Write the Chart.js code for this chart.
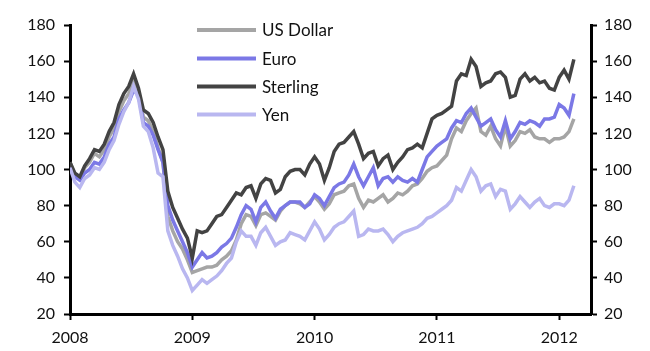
<!DOCTYPE html>
<html>
<head>
<meta charset="utf-8">
<script src="https://cdn.jsdelivr.net/npm/chart.js@4.4.1/dist/chart.umd.min.js"></script>
<style>
  body { margin: 0; background: #fff; }
  #chart { display: block; }
</style>
</head>
<body>
<canvas id="chart" width="650" height="351"></canvas>
<script>
// Index levels, sampled roughly every two weeks from Jan 2008 to Feb 2012
var startYear = 2008;
var stepYears = 0.04;
var yearTicks = [2008, 2009, 2010, 2011, 2012];
var seriesNames = ["US Dollar", "Euro", "Sterling", "Yen"];

var usDollar = [104, 97, 95, 101, 104, 109, 107, 111, 118, 123, 132, 138, 142, 149, 143, 129, 127, 121, 112, 104,
  74, 66, 60, 56, 50, 43, 44, 45, 46, 46, 47, 50, 52, 55, 61, 70, 75, 74, 69, 75,
  76, 74, 72, 77, 80, 82, 82, 81, 79, 82, 85, 82, 78, 81, 86, 87, 88, 91, 92, 84,
  79, 83, 82, 84, 86, 82, 84, 87, 86, 88, 91, 92, 95, 99, 101, 102, 105, 108, 117, 123,
  121, 127, 131, 134, 121, 119, 124, 117, 113, 124, 113, 116, 121, 120, 122, 118, 117, 117, 115, 117,
  117, 118, 121, 128];

var euro = [103, 96, 94, 98, 100, 104, 103, 107, 114, 118, 128, 133, 137, 144, 141, 126, 124, 119, 111, 104,
  80, 72, 66, 60, 54, 46, 50, 54, 51, 52, 54, 57, 59, 62, 68, 75, 80, 78, 71, 79,
  82, 77, 73, 78, 80, 82, 82, 82, 79, 81, 86, 84, 80, 85, 90, 92, 93, 97, 103, 96,
  91, 96, 101, 91, 95, 96, 93, 96, 94, 93, 95, 93, 100, 107, 110, 113, 115, 117, 123, 127,
  126, 131, 134, 129, 124, 126, 128, 122, 118, 127, 117, 121, 126, 125, 127, 126, 124, 128, 128, 129,
  136, 134, 130, 142];

var sterling = [104, 98, 96, 102, 106, 111, 110, 114, 121, 126, 136, 142, 146, 153, 145, 133, 131, 126, 118, 111,
  88, 79, 73, 67, 62, 51, 66, 65, 66, 70, 74, 75, 79, 83, 87, 86, 90, 91, 84, 92,
  95, 94, 87, 89, 96, 99, 100, 100, 97, 103, 107, 103, 94, 101, 110, 114, 115, 118, 121, 114,
  106, 109, 110, 102, 106, 108, 100, 104, 107, 111, 112, 114, 112, 120, 128, 130, 131, 133, 135, 149,
  153, 152, 161, 157, 146, 148, 149, 153, 154, 151, 140, 141, 150, 153, 149, 151, 148, 149, 145, 144,
  151, 155, 150, 161];

var yen = [101, 93, 90, 95, 97, 101, 100, 104, 111, 116, 125, 132, 137, 146, 139, 124, 121, 112, 98, 96,
  66, 58, 52, 45, 40, 33, 36, 39, 37, 39, 41, 44, 48, 51, 60, 66, 63, 63, 58, 65,
  68, 63, 58, 60, 61, 65, 64, 63, 61, 66, 71, 67, 61, 64, 68, 70, 71, 74, 77, 63,
  64, 67, 66, 66, 67, 64, 60, 63, 65, 66, 67, 68, 70, 73, 74, 76, 78, 80, 83, 90,
  88, 94, 100, 96, 88, 91, 92, 85, 89, 88, 78, 81, 85, 82, 79, 82, 84, 80, 79, 81,
  81, 80, 83, 91];

var colors = ["#a5a5a5", "#7b78e6", "#434343", "#b9b7f0"];

function toPoints(values) {
  return values.map(function(v, i) {
    return { x: startYear + i * stepYears, y: v };
  });
}

var font = { family: "Lato, 'Open Sans', sans-serif", size: 16 };

// Vertical legend in the top-left of the plot, as in the original
var legendPlugin = {
  id: "sideLegend",
  afterDraw: function(chart) {
    var ctx = chart.ctx;
    var rows = [30, 58.5, 86.5, 114.5];
    ctx.save();
    ctx.font = "17px Lato, 'Open Sans', sans-serif";
    ctx.textBaseline = "middle";
    ctx.textAlign = "left";
    for (var i = 0; i < seriesNames.length; i++) {
      ctx.strokeStyle = colors[i];
      ctx.lineWidth = 4;
      ctx.beginPath();
      ctx.moveTo(197, rows[i]);
      ctx.lineTo(256, rows[i]);
      ctx.stroke();
      ctx.fillStyle = "#111";
      ctx.fillText(seriesNames[i], 262, rows[i] + 1);
    }
    ctx.restore();
  }
};

function yAxis(position, width, pad) {
  return {
    position: position,
    min: 20,
    max: 180,
    afterFit: function(scale) { scale.width = width; },
    grid: { drawOnChartArea: false, tickLength: 6, tickWidth: 2, tickColor: "#000" },
    border: { color: "#000", width: 3 },
    ticks: { stepSize: 20, color: "#111", font: font, padding: pad }
  };
}

var allSeries = [usDollar, euro, sterling, yen];
var datasets = allSeries.map(function(values, i) {
  return {
    label: seriesNames[i],
    data: toPoints(values),
    borderColor: colors[i],
    borderWidth: 3.5,
    pointRadius: 0,
    tension: 0,
    order: 4 - i
  };
});

new Chart(document.getElementById("chart"), {
  type: "line",
  data: { datasets: datasets },
  options: {
    responsive: false,
    animation: false,
    layout: { padding: { top: 25, left: 0, right: 0, bottom: 0 } },
    plugins: { legend: { display: false }, tooltip: { enabled: false } },
    scales: {
      x: {
        type: "linear",
        min: 2008,
        max: 2012.26,
        afterFit: function(scale) { scale.height = 37; },
        afterBuildTicks: function(scale) {
          scale.ticks = yearTicks.map(function(v) { return { value: v }; });
        },
        grid: { drawOnChartArea: false, tickLength: 6, tickWidth: 2, tickColor: "#000" },
        border: { color: "#000", width: 3 },
        ticks: {
          color: "#111",
          font: font,
          padding: 8,
          maxRotation: 0,
          callback: function(v) { return String(v); }
        }
      },
      y: yAxis("left", 70, 9),
      y2: yAxis("right", 59, 7)
    }
  },
  plugins: [legendPlugin]
});
</script>
</body>
</html>
